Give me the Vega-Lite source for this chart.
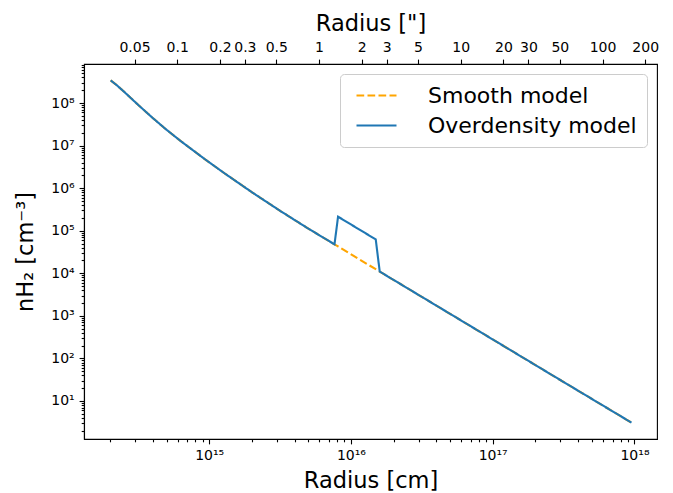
{
  "$schema": "https://vega.github.io/schema/vega-lite/v6.json",
  "width": 573,
  "height": 375,
  "autosize": {"type": "none"},
  "padding": {"left": 84, "top": 64, "right": 16, "bottom": 54},
  "background": "white",
  "config": {
    "font": "DejaVu Sans",
    "view": {"stroke": "black", "strokeWidth": 1.1},
    "axis": {
      "domainColor": "black", "domainWidth": 1.1, "tickColor": "black", "tickWidth": 1.1,
      "labelColor": "black", "titleColor": "black", "grid": false,
      "labelFont": "DejaVu Sans", "titleFont": "DejaVu Sans", "labelFontSize": 14,
      "titleFontSize": 22.5, "titleFontWeight": "normal", "labelOverlap": false, "labelFlush": false,
      "labelPadding": 4.9
    },
    "legend": {
      "labelLimit": 400
    }
  },
  "datasets": {
    "smooth": [
      {"model": "Smooth model", "r": 2.018e14, "n": 3.396e8},
      {"model": "Smooth model", "r": 2.239e14, "n": 2.594e8},
      {"model": "Smooth model", "r": 2.512e14, "n": 1.837e8},
      {"model": "Smooth model", "r": 3.162e14, "n": 8.995e7},
      {"model": "Smooth model", "r": 3.981e14, "n": 4.508e7},
      {"model": "Smooth model", "r": 5.012e14, "n": 2.339e7},
      {"model": "Smooth model", "r": 6.310e14, "n": 1.271e7},
      {"model": "Smooth model", "r": 9.078e14, "n": 5.117e6},
      {"model": "Smooth model", "r": 1.259e15, "n": 2.333e6},
      {"model": "Smooth model", "r": 1.995e15, "n": 8.091e5},
      {"model": "Smooth model", "r": 3.162e15, "n": 2.938e5},
      {"model": "Smooth model", "r": 5.012e15, "n": 1.117e5},
      {"model": "Smooth model", "r": 7.656e15, "n": 4.786e4},
      {"model": "Smooth model", "r": 8.110e15, "n": 4.266e4},
      {"model": "Smooth model", "r": 1.496e16, "n": 1.247e4},
      {"model": "Smooth model", "r": 1.596e16, "n": 1.096e4},
      {"model": "Smooth model", "r": 3.162e16, "n": 2793},
      {"model": "Smooth model", "r": 1.0e17, "n": 279.3},
      {"model": "Smooth model", "r": 3.162e17, "n": 27.93},
      {"model": "Smooth model", "r": 9.528e17, "n": 3.1}
    ],
    "over": [
      {"model": "Overdensity model", "r": 2.018e14, "n": 3.396e8},
      {"model": "Overdensity model", "r": 2.239e14, "n": 2.594e8},
      {"model": "Overdensity model", "r": 2.512e14, "n": 1.837e8},
      {"model": "Overdensity model", "r": 3.162e14, "n": 8.995e7},
      {"model": "Overdensity model", "r": 3.981e14, "n": 4.508e7},
      {"model": "Overdensity model", "r": 5.012e14, "n": 2.339e7},
      {"model": "Overdensity model", "r": 6.310e14, "n": 1.271e7},
      {"model": "Overdensity model", "r": 9.078e14, "n": 5.117e6},
      {"model": "Overdensity model", "r": 1.259e15, "n": 2.333e6},
      {"model": "Overdensity model", "r": 1.995e15, "n": 8.091e5},
      {"model": "Overdensity model", "r": 3.162e15, "n": 2.938e5},
      {"model": "Overdensity model", "r": 5.012e15, "n": 1.117e5},
      {"model": "Overdensity model", "r": 7.656e15, "n": 4.786e4},
      {"model": "Overdensity model", "r": 8.110e15, "n": 2.138e5},
      {"model": "Overdensity model", "r": 1.496e16, "n": 6.252e4},
      {"model": "Overdensity model", "r": 1.596e16, "n": 1.096e4},
      {"model": "Overdensity model", "r": 3.162e16, "n": 2793},
      {"model": "Overdensity model", "r": 1.0e17, "n": 279.3},
      {"model": "Overdensity model", "r": 3.162e17, "n": 27.93},
      {"model": "Overdensity model", "r": 9.528e17, "n": 3.1}
    ],
    "arcsec": [{"arcsec": 0.05}, {"arcsec": 200}]
  },
  "layer": [
    {
      "encoding": {
        "x": {
          "field": "r", "type": "quantitative",
          "scale": {"type": "log", "domain": [1.309e14, 1.442e18], "nice": false},
          "axis": {
            "orient": "bottom", "title": "Radius [cm]", "titlePadding": 7,
            "values": [2e14,3e14,4e14,5e14,6e14,7e14,8e14,9e14,1e15,2e15,3e15,4e15,5e15,6e15,7e15,8e15,9e15,1e16,2e16,3e16,4e16,5e16,6e16,7e16,8e16,9e16,1e17,2e17,3e17,4e17,5e17,6e17,7e17,8e17,9e17,1e18],
            "tickSize": {"condition": {"test": "abs(log(datum.value)/LN10 - round(log(datum.value)/LN10)) < 0.01", "value": 4.9}, "value": 2.8},
            "labelExpr": "abs(log(datum.value)/LN10 - round(log(datum.value)/LN10)) < 0.01 ? '10' + (round(log(datum.value)/LN10) >= 10 ? ['⁰','¹','²','³','⁴','⁵','⁶','⁷','⁸','⁹'][floor(round(log(datum.value)/LN10)/10)] : '') + ['⁰','¹','²','³','⁴','⁵','⁶','⁷','⁸','⁹'][round(log(datum.value)/LN10) % 10] : ''"
          }
        },
        "y": {
          "field": "n", "type": "quantitative",
          "scale": {"type": "log", "domain": [1.279, 8.26e8], "nice": false},
          "axis": {
            "title": "nH₂ [cm⁻³]", "titlePadding": 13,
            "values": [2,3,4,5,6,7,8,9,10,20,30,40,50,60,70,80,90,100,200,300,400,500,600,700,800,900,1e3,2e3,3e3,4e3,5e3,6e3,7e3,8e3,9e3,1e4,2e4,3e4,4e4,5e4,6e4,7e4,8e4,9e4,1e5,2e5,3e5,4e5,5e5,6e5,7e5,8e5,9e5,1e6,2e6,3e6,4e6,5e6,6e6,7e6,8e6,9e6,1e7,2e7,3e7,4e7,5e7,6e7,7e7,8e7,9e7,1e8,2e8,3e8,4e8,5e8,6e8,7e8,8e8],
            "tickSize": {"condition": {"test": "abs(log(datum.value)/LN10 - round(log(datum.value)/LN10)) < 0.01", "value": 4.9}, "value": 2.8},
            "labelExpr": "abs(log(datum.value)/LN10 - round(log(datum.value)/LN10)) < 0.01 ? '10' + ['⁰','¹','²','³','⁴','⁵','⁶','⁷','⁸','⁹'][round(log(datum.value)/LN10) % 10] : ''"
          }
        },
        "color": {
          "field": "model", "type": "nominal",
          "scale": {"domain": ["Smooth model", "Overdensity model"], "range": ["orange", "#1f77b4"]},
          "legend": {
            "title": null, "orient": "top-right", "offset": 10, "labelFontSize": 22, "labelFont": "DejaVu Sans",
            "labelColor": "black", "symbolType": "M-2,0H2", "symbolSize": 400, "symbolStrokeWidth": 2.1, "labelLimit": 400,
            "symbolOffset": 15,
            "fillColor": "white", "strokeColor": "#cccccc", "cornerRadius": 4, "padding": 10, "rowPadding": 7, "labelOffset": 40
          }
        },
        "strokeDash": {
          "field": "model", "type": "nominal",
          "scale": {"domain": ["Smooth model", "Overdensity model"], "range": [[7.7, 3.3], [1, 0]]},
          "legend": {
            "title": null, "orient": "top-right", "offset": 10, "labelFontSize": 22, "labelFont": "DejaVu Sans",
            "labelColor": "black", "symbolType": "M-2,0H2", "symbolSize": 400, "symbolStrokeWidth": 2.1, "labelLimit": 400,
            "symbolOffset": 15,
            "fillColor": "white", "strokeColor": "#cccccc", "cornerRadius": 4, "padding": 10, "rowPadding": 7, "labelOffset": 40
          }
        }
      },
      "layer": [
        {"data": {"name": "smooth"}, "mark": {"type": "line", "strokeWidth": 2.1, "clip": true}},
        {"data": {"name": "over"}, "mark": {"type": "line", "strokeWidth": 2.1, "clip": true}}
      ]
    },
    {
      "data": {"name": "arcsec"},
      "mark": {"type": "point", "opacity": 0},
      "encoding": {
        "x": {
          "field": "arcsec", "type": "quantitative",
          "scale": {"type": "log", "domain": [0.0220, 242.35], "nice": false},
          "axis": {
            "orient": "top", "title": "Radius [\"]", "titlePadding": 5, "tickSize": 4.9,
            "values": [0.05, 0.1, 0.2, 0.3, 0.5, 1, 2, 3, 5, 10, 20, 30, 50, 100, 200],
            "format": "~g"
          }
        }
      }
    }
  ],
  "resolve": {"scale": {"x": "independent"}}
}
